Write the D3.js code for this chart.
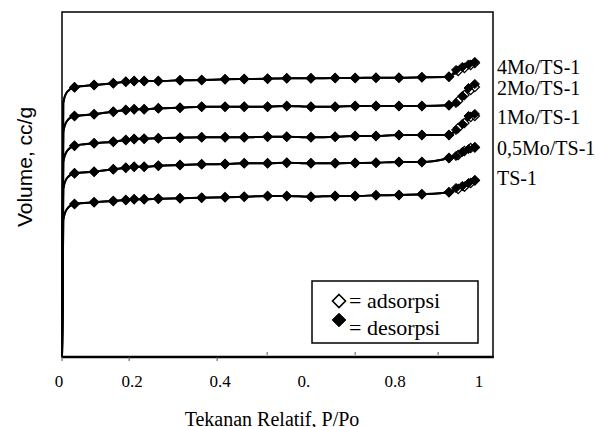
<!DOCTYPE html>
<html>
<head>
<meta charset="utf-8">
<script src="https://cdn.jsdelivr.net/npm/d3@7"></script>
<style>
  html, body { margin: 0; padding: 0; background: #fff; }
  svg { display: block; }
  .serif { font-family: "Liberation Serif", "Times New Roman", Times, serif; }
  .sans { font-family: "Liberation Sans", Arial, Helvetica, sans-serif; }
</style>
</head>
<body>
<svg id="chart" width="610" height="427"></svg>
<script>
// ---------------- DATA ----------------
// relative pressure P/Po
const pLow = [0, 0.003, 0.012];              // steep low-pressure rise (no markers)
const pBase = [0.03, 0.077, 0.123, 0.153, 0.173, 0.197, 0.231, 0.283, 0.335, 0.391,
               0.437, 0.493, 0.539, 0.597, 0.655, 0.703, 0.753, 0.808, 0.863, 0.928];
const pAdsHigh = [0.95, 0.965, 0.98, 0.99];
const pDesHigh = [0.945, 0.96, 0.975, 0.99];

const seriesNames = ["4Mo/TS-1", "2Mo/TS-1", "1Mo/TS-1", "0,5Mo/TS-1", "TS-1"];

// volume (arbitrary units, curves offset)
const v4MoLow = [0, 254, 265];
const v4MoBase = [269.7, 272, 273.7, 275.3, 276, 276, 276, 276.7, 277, 277.7,
                  278, 278.3, 278.7, 278.7, 279, 279, 279.3, 279.3, 279.7, 280.3];
const v4MoAdsHigh = [286, 289, 292, 294];
const v4MoDesHigh = [287, 290, 292.5, 295];

const v2MoLow = [0, 225, 236];
const v2MoBase = [241, 242.7, 245.3, 247, 247.7, 247.7, 248.7, 249.3, 250.3, 250.3,
                  250.3, 250.3, 251, 250.3, 250.3, 251, 251, 251, 251, 251.7];
const v2MoAdsHigh = [256, 262, 267, 270];
const v2MoDesHigh = [254, 261, 269, 273];

const v1MoLow = [0, 195, 206];
const v1MoBase = [211.3, 213.7, 215.3, 217, 218, 218.3, 218.7, 219.3, 219.7, 219.7,
                  219.7, 220.3, 220.3, 219.7, 220.3, 221, 221, 222, 222, 222];
const v1MoAdsHigh = [229, 234, 240, 241];
const v1MoDesHigh = [227, 233, 241, 243];

const v05MoLow = [0, 168, 179];
const v05MoBase = [183.7, 185.3, 187.7, 189.3, 190.3, 190.3, 191.3, 192, 192.7, 193,
                   193.7, 193.7, 194.3, 193.7, 193.7, 194, 194.3, 195, 195, 199];
const v05MoAdsHigh = [202, 206, 209, 209.5];
const v05MoDesHigh = [201, 205, 208, 210];

const vTSLow = [0, 137, 148];
const vTSBase = [153, 154.7, 156, 157, 157.7, 157.7, 158.3, 158.7, 159.3, 159.7,
                 160.3, 161, 161, 160.3, 161, 161, 161.7, 162, 162.7, 164.7];
const vTSAdsHigh = [168, 170.3, 174, 176.5];
const vTSDesHigh = [169, 171, 174, 177];

// axis ticks / labels (as placed in the original figure)
const tickLabelValues = [-0.007, 0.168, 0.379, 0.58, 0.799, 1.0];
const tickLabels = ["0", "0.2", "0.4", "0.", "0.8", "1"];
const tickMarksOut = [0.0, 0.161, 0.372];
const tickMarksIn = [0.492, 0.703, 0.902];

const xTitle = "Tekanan Relatif, P/Po";
const yTitle = "Volume, cc/g";
const legendLabels = ["= adsorpsi", "= desorpsi"];

// ---------------- CHART ----------------
const svg = d3.select("#chart");
const frame = { left: 62, right: 493, top: 12, bottom: 357 };

const x = d3.scaleLinear().domain([0, 1]).range([62, 479]);
const y = d3.scaleLinear().domain([0, 345]).range([frame.bottom, frame.top]);

svg.append("rect").attr("width", 610).attr("height", 427).attr("fill", "#fff");

// frame
svg.append("rect")
  .attr("x", frame.left).attr("y", frame.top)
  .attr("width", frame.right - frame.left).attr("height", frame.bottom - frame.top)
  .attr("fill", "none").attr("stroke", "#000").attr("stroke-width", 1.5);
svg.append("line")
  .attr("x1", frame.left).attr("x2", frame.right + 0.75)
  .attr("y1", frame.bottom).attr("y2", frame.bottom)
  .attr("stroke", "#000").attr("stroke-width", 2.5);

// tick marks
svg.selectAll("line.tout").data(tickMarksOut).enter().append("line")
  .attr("x1", d => x(d)).attr("x2", d => x(d))
  .attr("y1", frame.bottom).attr("y2", frame.bottom + 4)
  .attr("stroke", "#555").attr("stroke-width", 1);
svg.selectAll("line.tin").data(tickMarksIn).enter().append("line")
  .attr("x1", d => x(d)).attr("x2", d => x(d))
  .attr("y1", frame.bottom - 2).attr("y2", frame.bottom - 5)
  .attr("stroke", "#555").attr("stroke-width", 1);

// tick labels
svg.selectAll("text.tl").data(tickLabelValues).enter().append("text")
  .attr("class", "serif")
  .attr("x", d => x(d)).attr("y", 387)
  .attr("text-anchor", "middle")
  .attr("font-size", 17)
  .text((d, i) => tickLabels[i]);

// titles
svg.append("text")
  .attr("class", "serif")
  .attr("x", 272).attr("y", 426)
  .attr("text-anchor", "middle")
  .attr("font-size", 20)
  .text(xTitle);
svg.append("text")
  .attr("class", "sans")
  .attr("transform", "translate(32,167) rotate(-90)")
  .attr("text-anchor", "middle")
  .attr("font-size", 21)
  .text(yTitle);

// series
const allSeries = [
  [v4MoLow, v4MoBase, v4MoAdsHigh, v4MoDesHigh],
  [v2MoLow, v2MoBase, v2MoAdsHigh, v2MoDesHigh],
  [v1MoLow, v1MoBase, v1MoAdsHigh, v1MoDesHigh],
  [v05MoLow, v05MoBase, v05MoAdsHigh, v05MoDesHigh],
  [vTSLow, vTSBase, vTSAdsHigh, vTSDesHigh]
];

const line = d3.line().x(d => x(d[0])).y(d => y(d[1])).curve(d3.curveMonotoneX);
function diamond(cx, cy, r) {
  return `M${cx},${cy - r}L${cx + r},${cy}L${cx},${cy + r}L${cx - r},${cy}Z`;
}
const zip = (ps, vs) => ps.map((p, i) => [p, vs[i]]);

const plot = svg.append("g");
allSeries.forEach(([low, base, adsH, desH]) => {
  const adsPts = zip(pBase, base).concat(zip(pAdsHigh, adsH));
  const desPts = zip(pBase, base).concat(zip(pDesHigh, desH));
  const lowPts = zip(pLow, low);
  plot.append("path").datum(lowPts.concat(adsPts)).attr("d", line)
    .attr("fill", "none").attr("stroke", "#000").attr("stroke-width", 2);
  plot.append("path").datum(lowPts.concat(desPts)).attr("d", line)
    .attr("fill", "none").attr("stroke", "#000").attr("stroke-width", 2);
  plot.selectAll(null).data(adsPts).enter().append("path")
    .attr("d", d => diamond(x(d[0]), y(d[1]), 4.6))
    .attr("fill", "#fff").attr("stroke", "#000").attr("stroke-width", 1.3);
  plot.selectAll(null).data(desPts).enter().append("path")
    .attr("d", d => diamond(x(d[0]), y(d[1]), 4.6))
    .attr("fill", "#000").attr("stroke", "#000").attr("stroke-width", 1);
});

// series labels
const labelBaselines = [74, 95, 124, 155, 185];
svg.selectAll("text.sl").data(seriesNames).enter().append("text")
  .attr("class", "serif")
  .attr("x", 497).attr("y", (d, i) => labelBaselines[i])
  .attr("font-size", 20)
  .text(d => d);

// legend
const lg = svg.append("g");
lg.append("rect").attr("x", 312).attr("y", 281).attr("width", 166).attr("height", 62)
  .attr("fill", "#fff").attr("stroke", "#000").attr("stroke-width", 1.5);
lg.append("path").attr("d", diamond(339, 301, 6.5))
  .attr("fill", "#fff").attr("stroke", "#000").attr("stroke-width", 1.6);
lg.append("path").attr("d", diamond(339, 320, 6.8))
  .attr("fill", "#000").attr("stroke", "#000").attr("stroke-width", 1);
lg.selectAll("text").data(legendLabels).enter().append("text")
  .attr("class", "serif")
  .attr("x", 349).attr("y", (d, i) => i === 0 ? 308 : 335)
  .attr("font-size", 22)
  .text(d => d);
</script>
</body>
</html>
